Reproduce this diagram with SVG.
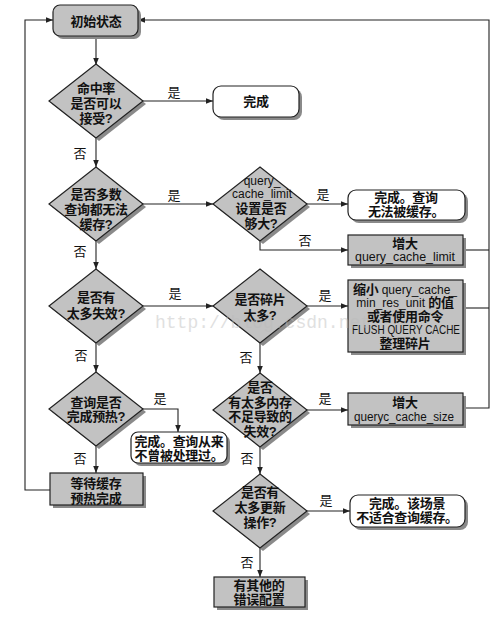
<svg xmlns="http://www.w3.org/2000/svg" width="501" height="617" viewBox="0 0 501 617">
<style>
.g{fill:#c2c2c2;stroke:#222;stroke-width:1.2}
.w{fill:#fff;stroke:#222;stroke-width:1.2}
.sh{fill:#8a8a8a}
.t{font-family:"Liberation Sans","Noto Sans CJK SC",sans-serif;font-size:13px;font-weight:bold;fill:#111;text-anchor:middle;letter-spacing:-0.3px}
.en{font-family:"Liberation Sans",sans-serif;font-size:12px;font-weight:normal;letter-spacing:0}
.l{font-family:"Liberation Sans","Noto Sans CJK SC",sans-serif;font-size:13px;fill:#111;text-anchor:middle}
.c path{fill:none;stroke:#222;stroke-width:1.1}
.wm{font-family:"Liberation Mono",monospace;font-size:18px;fill:#bbb;opacity:0.45}
</style>
<defs>
<marker id="a" viewBox="0 0 10 10" refX="10" refY="5" markerWidth="7" markerHeight="7" orient="auto" markerUnits="userSpaceOnUse">
<path d="M0,1 L10,5 L0,9 z" fill="#222"/>
</marker>
<polygon id="dia" points="0,-37 47,0 0,37 -47,0"/>
</defs>
<rect width="501" height="617" fill="#fff"/>

<g class="c">
<path d="M96,36 V65" marker-end="url(#a)"/>
<path d="M96,138 V167" marker-end="url(#a)"/>
<path d="M96,241 V269" marker-end="url(#a)"/>
<path d="M96,343 V372" marker-end="url(#a)"/>
<path d="M96,446 V473" marker-end="url(#a)"/>
<path d="M143,101 H213" marker-end="url(#a)"/>
<path d="M143,204 H213" marker-end="url(#a)"/>
<path d="M307,204 H348" marker-end="url(#a)"/>
<path d="M260,241 V250 H348" marker-end="url(#a)"/>
<path d="M143,306 H213" marker-end="url(#a)"/>
<path d="M307,306 H348" marker-end="url(#a)"/>
<path d="M260,343 V373" marker-end="url(#a)"/>
<path d="M307,410 H348" marker-end="url(#a)"/>
<path d="M260,447 V474" marker-end="url(#a)"/>
<path d="M307,511 H350" marker-end="url(#a)"/>
<path d="M260,548 V577" marker-end="url(#a)"/>
<path d="M143,409 H178 V432" marker-end="url(#a)"/>
<path d="M50,490 H25 V20 H53" marker-end="url(#a)"/>
<path d="M463,250 H489"/>
<path d="M463,308 H489"/>
<path d="M463,408 H489 V20 H138" marker-end="url(#a)"/>
</g>

<g id="start">
<rect class="sh" x="56" y="8" width="85" height="31" rx="7"/>
<rect class="g" x="53" y="5" width="85" height="31" rx="7"/>
<text class="t" x="96" y="26">初始状态</text>
</g>

<g id="d1">
<use href="#dia" x="99" y="104" class="sh"/>
<use href="#dia" x="96" y="101" class="g"/>
<text class="t" x="96" y="93"><tspan x="96">命中率</tspan><tspan x="96" dy="15">是否可以</tspan><tspan x="96" dy="15">接受?</tspan></text>
</g>

<g id="done1">
<rect class="sh" x="216" y="89" width="86" height="31" rx="8"/>
<rect class="w" x="213" y="86" width="86" height="31" rx="8"/>
<text class="t" x="256" y="106">完成</text>
</g>

<g id="d2">
<use href="#dia" x="99" y="207" class="sh"/>
<use href="#dia" x="96" y="204" class="g"/>
<text class="t" x="96" y="199"><tspan x="96">是否多数</tspan><tspan x="96" dy="15">查询都无法</tspan><tspan x="96" dy="15">缓存?</tspan></text>
</g>

<g id="d3">
<use href="#dia" x="263" y="207" class="sh"/>
<use href="#dia" x="260" y="204" class="g"/>
<text class="t" x="262" y="185"><tspan x="262" class="en">query_</tspan><tspan x="262" dy="13" class="en" textLength="60" lengthAdjust="spacingAndGlyphs">cache_limit</tspan><tspan x="261" dy="15">设置是否</tspan><tspan x="261" dy="15">够大?</tspan></text>
</g>

<g id="done2">
<rect class="sh" x="351" y="193" width="117" height="30" rx="8"/>
<rect class="w" x="348" y="190" width="117" height="30" rx="8"/>
<text class="t" x="406" y="202"><tspan x="406">完成。查询</tspan><tspan x="406" dy="14">无法被缓存。</tspan></text>
</g>

<g id="inc1">
<rect class="sh" x="351" y="238" width="115" height="30"/>
<rect class="g" x="348" y="235" width="115" height="30"/>
<text class="t" x="405" y="248"><tspan x="405">增大</tspan><tspan x="405" dy="13" class="en" textLength="100" lengthAdjust="spacingAndGlyphs">query_cache_limit</tspan></text>
</g>

<g id="d4">
<use href="#dia" x="99" y="309" class="sh"/>
<use href="#dia" x="96" y="306" class="g"/>
<text class="t" x="96" y="302"><tspan x="96">是否有</tspan><tspan x="96" dy="16">太多失效?</tspan></text>
</g>

<g id="d5">
<use href="#dia" x="263" y="309" class="sh"/>
<use href="#dia" x="260" y="306" class="g"/>
<text class="t" x="260" y="304"><tspan x="260">是否碎片</tspan><tspan x="260" dy="16">太多?</tspan></text>
</g>

<g id="frag">
<rect class="sh" x="351" y="283" width="115" height="72"/>
<rect class="g" x="348" y="280" width="115" height="72"/>
<text class="t" x="405" y="294"><tspan x="405">缩小 <tspan class="en">query_cache_</tspan></tspan><tspan x="405" dy="13"><tspan class="en">min_res_unit</tspan> 的值</tspan><tspan x="405" dy="14">或者使用命令</tspan><tspan x="406" dy="13" class="en" textLength="108" lengthAdjust="spacingAndGlyphs">FLUSH QUERY CACHE</tspan><tspan x="405" dy="14">整理碎片</tspan></text>
</g>

<g id="d6">
<use href="#dia" x="263" y="413" class="sh"/>
<use href="#dia" x="260" y="410" class="g"/>
<text class="t" x="260" y="392"><tspan x="260">是否</tspan><tspan x="260" dy="15">有太多内存</tspan><tspan x="260" dy="14">不足导致的</tspan><tspan x="260" dy="15">失效?</tspan></text>
</g>

<g id="inc2">
<rect class="sh" x="351" y="396" width="115" height="32"/>
<rect class="g" x="348" y="393" width="115" height="32"/>
<text class="t" x="405" y="407"><tspan x="405">增大</tspan><tspan x="404" dy="14" class="en" textLength="100" lengthAdjust="spacingAndGlyphs">queryc_cache_size</tspan></text>
</g>

<g id="d8">
<use href="#dia" x="99" y="412" class="sh"/>
<use href="#dia" x="96" y="409" class="g"/>
<text class="t" x="96" y="407"><tspan x="96">查询是否</tspan><tspan x="96" dy="14">完成预热?</tspan></text>
</g>

<g id="done3">
<rect class="sh" x="134" y="435" width="96" height="31" rx="7"/>
<rect class="w" x="131" y="432" width="96" height="31" rx="7"/>
<text class="t" x="179" y="446"><tspan x="179">完成。查询从来</tspan><tspan x="179" dy="14">不曾被处理过。</tspan></text>
</g>

<g id="wait">
<rect class="sh" x="53" y="476" width="93" height="32"/>
<rect class="g" x="50" y="473" width="93" height="32"/>
<text class="t" x="96" y="488"><tspan x="96">等待缓存</tspan><tspan x="96" dy="15">预热完成</tspan></text>
</g>

<g id="d7">
<use href="#dia" x="263" y="514" class="sh"/>
<use href="#dia" x="260" y="511" class="g"/>
<text class="t" x="260" y="497"><tspan x="260">是否有</tspan><tspan x="260" dy="15">太多更新</tspan><tspan x="260" dy="15">操作?</tspan></text>
</g>

<g id="done4">
<rect class="sh" x="353" y="498" width="115" height="32" rx="8"/>
<rect class="w" x="350" y="495" width="115" height="32" rx="8"/>
<text class="t" x="407" y="508"><tspan x="407">完成。该场景</tspan><tspan x="407" dy="14">不适合查询缓存。</tspan></text>
</g>

<g id="other">
<rect class="sh" x="217" y="580" width="91" height="30"/>
<rect class="g" x="214" y="577" width="91" height="30"/>
<text class="t" x="259" y="590"><tspan x="259">有其他的</tspan><tspan x="259" dy="14">错误配置</tspan></text>
</g>

<g id="labels">
<text class="l" x="174" y="97">是</text>
<text class="l" x="80" y="158">否</text>
<text class="l" x="174" y="200">是</text>
<text class="l" x="80" y="256">否</text>
<text class="l" x="323" y="199">是</text>
<text class="l" x="305" y="245">否</text>
<text class="l" x="175" y="298">是</text>
<text class="l" x="325" y="300">是</text>
<text class="l" x="81" y="360">否</text>
<text class="l" x="246" y="362">否</text>
<text class="l" x="325" y="403">是</text>
<text class="l" x="160" y="403">是</text>
<text class="l" x="80" y="463">否</text>
<text class="l" x="247" y="463">否</text>
<text class="l" x="326" y="505">是</text>
<text class="l" x="247" y="567">否</text>
</g>

<text class="wm" x="155" y="328">http://blog.csdn.net</text>
</svg>
